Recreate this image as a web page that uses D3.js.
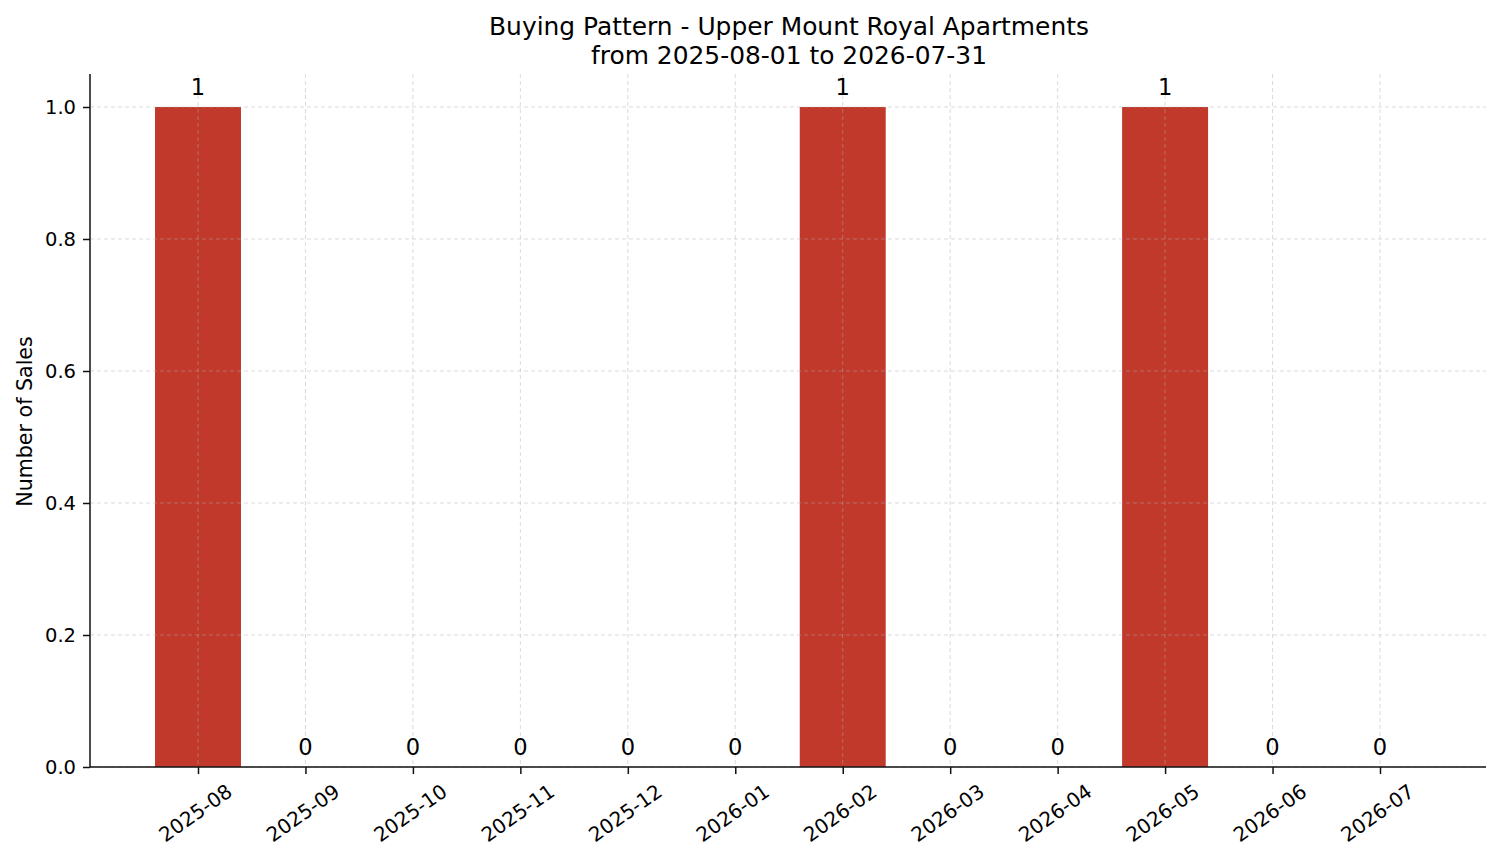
<!DOCTYPE html>
<html><head><meta charset="utf-8">
<script src="https://cdn.jsdelivr.net/npm/d3@7"></script>
<style>body{margin:0;background:#fff;} text{font-family:"DejaVu Sans",sans-serif;}</style>
</head><body>
<svg id="c" width="1501" height="863"></svg>
<script>
const months = ["2025-08","2025-09","2025-10","2025-11","2025-12","2026-01","2026-02","2026-03","2026-04","2026-05","2026-06","2026-07"];
const sales = [1,0,0,0,0,0,1,0,0,1,0,0];
const yTicks = [0,0.2,0.4,0.6,0.8,1.0];
const titleLines = ["Buying Pattern - Upper Mount Royal Apartments","from 2025-08-01 to 2026-07-31"];
const yLabel = "Number of Sales";

const svg = d3.select("#c");
const L=90,R=1486,T=74,B=767;
const x = d3.scaleLinear().domain([0, months.length-1]).range([198,1380]);
const y = d3.scaleLinear().domain([0,1.05]).range([B,T]);
const bw = x(0.4)-x(-0.4);
const tickFont = 19.5;

// bars
svg.append("g").selectAll("rect").data(sales).join("rect")
  .attr("x",(d,i)=>x(i)-bw/2).attr("width",bw)
  .attr("y",d=>y(d)).attr("height",d=>y(0)-y(d))
  .attr("fill","#c0392b");

// grid
const g = svg.append("g").attr("stroke","#b0b0b0").attr("stroke-opacity",0.5).attr("stroke-dasharray","4,3").attr("stroke-width",0.9);
g.selectAll(".gx").data(months).join("line").attr("x1",(d,i)=>x(i)).attr("x2",(d,i)=>x(i)).attr("y1",T).attr("y2",B);
g.selectAll(".gy").data(yTicks).join("line").attr("x1",L).attr("x2",R).attr("y1",d=>y(d)).attr("y2",d=>y(d));

// axes
const yAxis = d3.axisLeft(y).tickValues(yTicks).tickFormat(d3.format(".1f")).tickSize(7).tickPadding(7);
const ya = svg.append("g").attr("transform",`translate(${L},0)`).call(yAxis);
ya.select(".domain").attr("d",`M0,${B}V${T}`);
ya.selectAll("text").attr("font-size",tickFont).attr("font-family","DejaVu Sans").attr("fill","#000");

const xAxis = d3.axisBottom(x).tickValues(d3.range(months.length)).tickFormat(i=>months[i]).tickSize(7).tickPadding(6);
const xa = svg.append("g").attr("transform",`translate(0,${B})`).call(xAxis);
xa.select(".domain").attr("d",`M${L},0H${R}`);
xa.selectAll("text").attr("font-size",20).attr("font-family","DejaVu Sans").attr("fill","#000")
  .attr("text-anchor","middle").attr("dy",null).attr("y",null).attr("dominant-baseline","central")
  .attr("transform","translate(-3,46) rotate(-35)");
[ya,xa].forEach(a=>{a.selectAll(".domain,line").attr("stroke","#111").attr("stroke-width",1.5);});

// value labels
svg.append("g").selectAll("text").data(sales).join("text")
  .attr("x",(d,i)=>x(i)).attr("y",d=>y(d)-12)
  .attr("text-anchor","middle").attr("font-size",22.6).attr("fill","#000")
  .text(d=>d);

// title
svg.append("g").selectAll("text").data(titleLines).join("text")
  .attr("x",(L+R)/2 + 1).attr("y",(d,i)=>35+i*29)
  .attr("text-anchor","middle").attr("font-size",24.9).attr("fill","#000").text(d=>d);

// y label
svg.append("text").attr("transform",`translate(32,${(T+B)/2+1}) rotate(-90)`)
  .attr("text-anchor","middle").attr("font-size",20.6).attr("fill","#000").text(yLabel);
</script>
</body></html>
